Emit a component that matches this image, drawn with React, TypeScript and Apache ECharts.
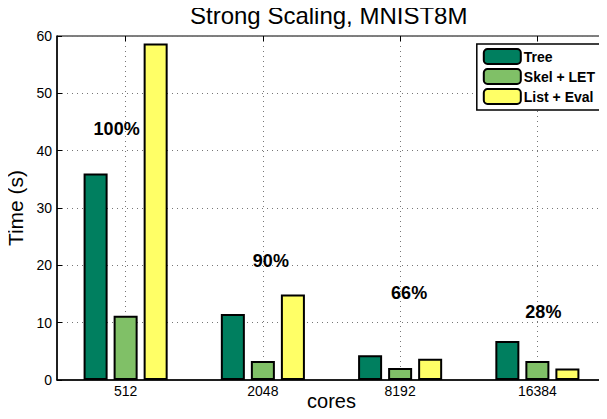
import React, { useEffect, useRef } from "react";
import * as echarts from "echarts";

const cores = ["512", "2048", "8192", "16384"];
const treeTimes = [36.0, 11.5, 4.3, 6.8];
const skelLetTimes = [11.2, 3.3, 2.1, 3.3];
const listEvalTimes = [58.7, 14.9, 3.7, 2.0];
const efficiencyLabels = ["100%", "90%", "66%", "28%"];
const efficiencyLabelY = [43.8, 20.7, 15.2, 11.9];
const efficiencyLabelDx = [-9, 8, 9, 6];
const yTicks = [0, 10, 20, 30, 40, 50, 60];

const FONT = "'Liberation Sans', Arial, Helvetica, sans-serif";

export default function App() {
  const ref = useRef<HTMLDivElement>(null);
  useEffect(() => {
    if (!ref.current) return;
    const chart = echarts.init(ref.current, undefined, { renderer: "svg" });
    const barBase = {
      type: "bar",
      barWidth: "17.5%",
      barGap: "25%",
      xAxisIndex: 0,
      yAxisIndex: 0,
    };
    chart.setOption({
      animation: false,
      backgroundColor: "#fff",
      textStyle: { fontFamily: FONT },
      title: {
        text: "Strong Scaling, MNIST8M",
        left: 190,
        top: 3,
        padding: 0,
        textStyle: { fontFamily: FONT, fontSize: 24, fontWeight: "normal", color: "#000" },
      },
      legend: {
        orient: "vertical",
        right: 4,
        top: 44,
        itemWidth: 37,
        itemHeight: 15,
        itemGap: 3,
        padding: [4, 8, 5, 6],
        borderColor: "#000",
        borderWidth: 1.5,
        backgroundColor: "#fff",
        textStyle: { fontFamily: FONT, fontSize: 14, fontWeight: "bold", color: "#000", padding: [0, 0, 0, -2] },
        data: ["Tree", "Skel + LET", "List + Eval"],
      },
      grid: {
        left: 57,
        right: 1,
        top: 36,
        bottom: 39,
        show: true,
        borderColor: "#000",
        borderWidth: 1,
        backgroundColor: "transparent",
        containLabel: false,
        outerBoundsMode: "none",
      },
      xAxis: [
        {
          type: "category",
          data: cores,
          boundaryGap: true,
          position: "bottom",
          axisLine: { lineStyle: { color: "#000", width: 1.5 } },
          axisTick: { show: false },
          axisLabel: { fontFamily: FONT, fontSize: 14, color: "#000", margin: 4 },
          splitLine: { show: false },
          name: "cores",
          nameLocation: "middle",
          nameGap: 21,
          nameMoveOverlap: false,
          nameTextStyle: { fontFamily: FONT, fontSize: 20, color: "#000", verticalAlign: "middle" },
        },
        {
          type: "category",
          data: ["", "", "", "", "", "", "", "", ""],
          boundaryGap: false,
          position: "top",
          axisLine: { show: false },
          axisLabel: { show: false },
          axisTick: {
            show: true,
            inside: true,
            length: 5,
            interval: (i: number) => i % 2 === 1,
            lineStyle: { color: "#000" },
          },
          splitLine: {
            show: true,
            interval: (i: number) => i % 2 === 1,
            lineStyle: { color: "#777", type: [1, 4], width: 1 },
          },
        },
      ],
      yAxis: {
        type: "value",
        min: 0,
        max: 60,
        interval: 10,
        axisLine: { show: true, lineStyle: { color: "#000", width: 1.5 } },
        axisTick: { show: true, inside: true, length: 5, lineStyle: { color: "#000" } },
        axisLabel: {
          fontFamily: FONT,
          fontSize: 14,
          color: "#000",
          margin: 5,
          formatter: (v: number) => (yTicks.includes(v) ? String(v) : ""),
        },
        splitLine: { show: true, lineStyle: { color: "#777", type: [1, 4], width: 1 } },
        name: "Time (s)",
        nameLocation: "middle",
        nameGap: 29,
        nameTextStyle: { fontFamily: FONT, fontSize: 21, color: "#000" },
      },
      series: [
        {
          ...barBase,
          name: "Tree",
          data: treeTimes,
          itemStyle: { color: "#007F5F", borderColor: "#000", borderWidth: 2 },
        },
        {
          ...barBase,
          name: "Skel + LET",
          data: skelLetTimes,
          itemStyle: { color: "#80C067", borderColor: "#000", borderWidth: 2 },
        },
        {
          ...barBase,
          name: "List + Eval",
          data: listEvalTimes,
          itemStyle: { color: "#FFFF66", borderColor: "#000", borderWidth: 2 },
        },
        {
          type: "scatter",
          name: "efficiency",
          xAxisIndex: 0,
          yAxisIndex: 0,
          symbolSize: 0,
          silent: true,
          z: 10,
          itemStyle: { opacity: 1 },
          label: {
            show: true,
            position: "inside",
            fontFamily: FONT,
            fontSize: 18,
            fontWeight: "bold",
            color: "#000",
            opacity: 1,
          },
          data: efficiencyLabelY.map((y, i) => ({
            value: [cores[i], y],
            label: {
              offset: [efficiencyLabelDx[i], 0],
              formatter: efficiencyLabels[i],
            },
          })),
        },
      ],
    });
    return () => chart.dispose();
  }, []);
  return <div ref={ref} style={{ width: 607, height: 419, margin: -8 }} />;
}
